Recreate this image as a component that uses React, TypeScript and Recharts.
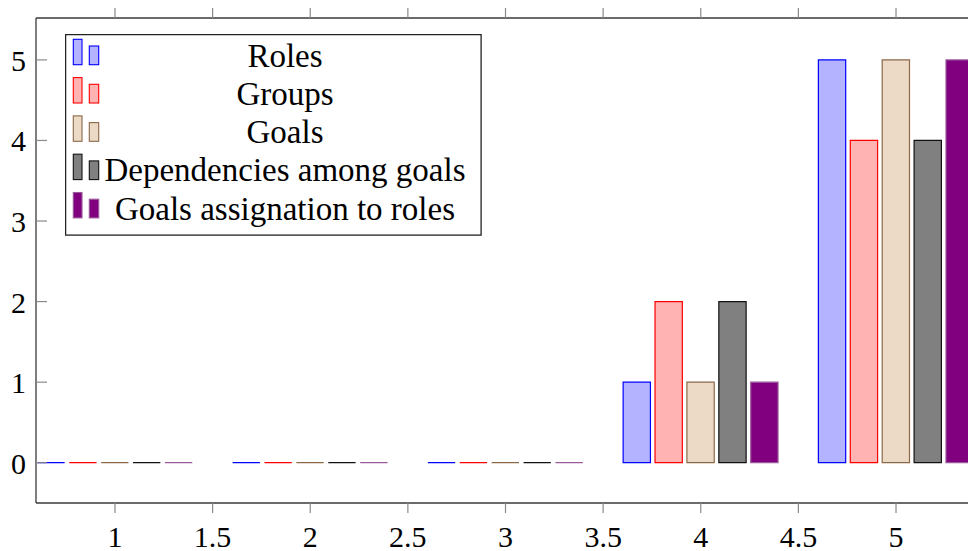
import React from 'react';
import { BarChart, Bar, XAxis, YAxis, Legend } from 'recharts';

const categories = [1, 2, 3, 4, 5];
const roles = [0, 0, 0, 1, 5];
const groups = [0, 0, 0, 2, 4];
const goals = [0, 0, 0, 1, 5];
const dependencies = [0, 0, 0, 2, 4];
const assignation = [0, 0, 0, 1, 5];
const xTicks = [1, 1.5, 2, 2.5, 3, 3.5, 4, 4.5, 5];
const yTicks = [0, 1, 2, 3, 4, 5];
const seriesNames = ['Roles', 'Groups', 'Goals', 'Dependencies among goals', 'Goals assignation to roles'];

const series = [
  { key: 'roles', name: seriesNames[0], values: roles, fill: '#b3b3ff', stroke: '#0000ff' },
  { key: 'groups', name: seriesNames[1], values: groups, fill: '#ffb3b3', stroke: '#ff0000' },
  { key: 'goals', name: seriesNames[2], values: goals, fill: '#ecd9c6', stroke: '#8a6848' },
  { key: 'deps', name: seriesNames[3], values: dependencies, fill: '#808080', stroke: '#111111' },
  { key: 'assign', name: seriesNames[4], values: assignation, fill: '#800080', stroke: '#9a5a9a' },
];

const data = categories.map((c, i) => {
  const row: any = { x: c };
  series.forEach((s) => (row[s.key] = s.values[i]));
  return row;
});

const FONT = '"Liberation Serif", "Times New Roman", serif';
const AXIS = '#3a3a3a';
const TICK = '#8a8a8a';

const BarShape = (props: any) => {
  const { x, y, width, height, fill, stroke } = props;
  if (x == null || y == null) return null;
  const d = `M${x},${y}h${width}v${height}h${-width}Z`;
  return <path d={d} fill={fill} stroke={stroke} strokeWidth={1.2} />;
};

const BottomTick = (props: any) => {
  const { x, y, payload } = props;
  return (
    <g>
      <line x1={x} y1={y} x2={x} y2={y + 10} stroke={TICK} strokeWidth={1.2} />
      <text x={x} y={y + 44} textAnchor="middle" fontFamily={FONT} fontSize={30} fill="#000">
        {String(payload.value)}
      </text>
    </g>
  );
};

const TopTick = (props: any) => {
  const { x, y } = props;
  return <line x1={x} y1={y} x2={x} y2={y - 10} stroke={TICK} strokeWidth={1.2} />;
};

const LeftTick = (props: any) => {
  const { x, y, payload } = props;
  return (
    <g>
      <line x1={x} y1={y} x2={x + 11} y2={y} stroke={TICK} strokeWidth={1.2} />
      <text x={x - 10} y={y + 11} textAnchor="end" fontFamily={FONT} fontSize={30} fill="#000">
        {String(payload.value)}
      </text>
    </g>
  );
};

const LegendBox = () => {
  const rowH = 38.3;
  return (
    <svg width={417} height={202} style={{ display: 'block' }}>
      <rect x={0.6} y={0.6} width={415.5} height={200.5} fill="#fff" stroke="#222" strokeWidth={1.3} />
      {series.map((s, i) => (
        <g key={s.key}>
          <rect x={8.3} y={5.3 + rowH * i} width={8.7} height={25.4} fill={s.fill} stroke={s.stroke} strokeWidth={1.1} />
          <rect x={24.3} y={12 + rowH * i} width={9.4} height={18.7} fill={s.fill} stroke={s.stroke} strokeWidth={1.1} />
          <text x={220} y={32.5 + rowH * i} textAnchor="middle" fontFamily={FONT} fontSize={33} fill="#000">
            {s.name}
          </text>
        </g>
      ))}
    </svg>
  );
};

export default function App() {
  return (
    <div style={{ position: 'absolute', left: 0, top: 0, width: 968, height: 551, overflow: 'hidden', background: '#fff' }}>
      <BarChart
        width={1000}
        height={551}
        data={data}
        margin={{ top: 17, right: 25, bottom: 47, left: 35 }}
        barSize={27.3}
        barGap={4.6}
      >
        <XAxis
          xAxisId="bottom"
          dataKey="x"
          type="number"
          domain={[0.5955, 5.4045]}
          ticks={xTicks}
          interval={0}
          allowDataOverflow
          height={1}
          tickSize={0}
          tickMargin={0}
          tickLine={false}
          axisLine={{ stroke: AXIS, strokeWidth: 1.3 }}
          tick={<BottomTick />}
        />
        <XAxis
          xAxisId="top"
          orientation="top"
          dataKey="x"
          type="number"
          domain={[0.5955, 5.4045]}
          ticks={xTicks}
          interval={0}
          allowDataOverflow
          height={1}
          tickSize={0}
          tickMargin={0}
          tickLine={false}
          axisLine={{ stroke: AXIS, strokeWidth: 1.3 }}
          tick={<TopTick />}
        />
        <YAxis
          type="number"
          domain={[-0.5, 5.52]}
          ticks={yTicks}
          interval={0}
          allowDataOverflow
          width={1}
          tickSize={0}
          tickMargin={0}
          tickLine={false}
          axisLine={{ stroke: AXIS, strokeWidth: 1.3 }}
          tick={<LeftTick />}
        />
        <Legend
          layout="vertical"
          align="center"
          verticalAlign="middle"
          content={() => <LegendBox />}
          wrapperStyle={{ position: 'absolute', left: 65, top: 34, width: 417, height: 202 }}
        />
        {series.map((s) => (
          <Bar
            key={s.key}
            xAxisId="bottom"
            dataKey={s.key}
            name={s.name}
            fill={s.fill}
            stroke={s.stroke}
            isAnimationActive={false}
            shape={<BarShape />}
          />
        ))}
      </BarChart>
    </div>
  );
}
